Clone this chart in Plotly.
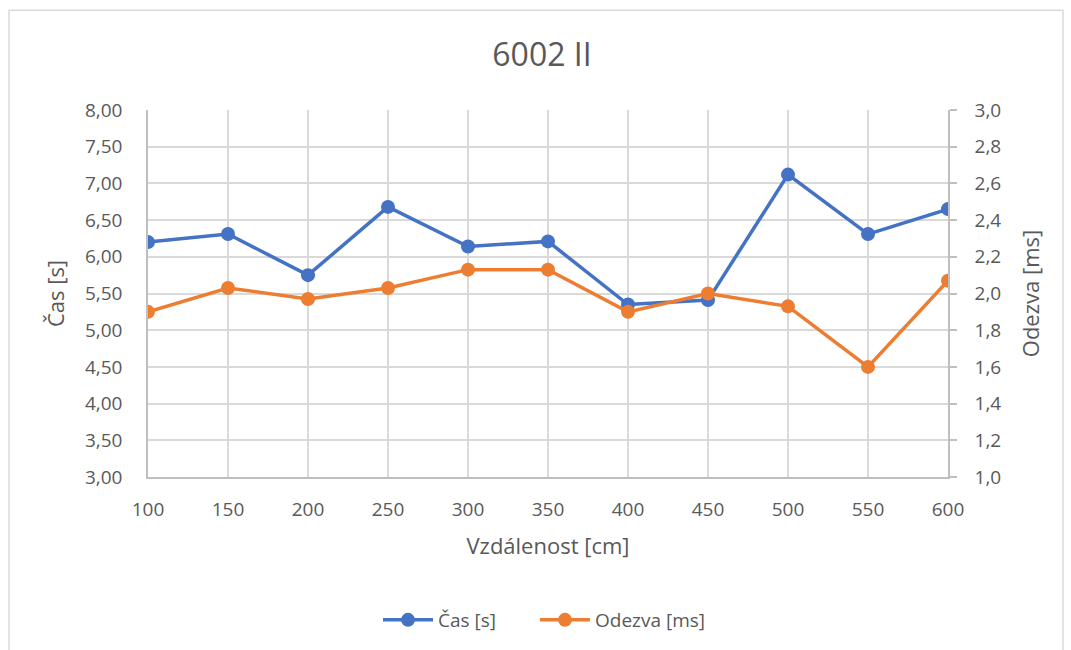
import plotly.graph_objects as go

distances = ["100", "150", "200", "250", "300", "350", "400", "450", "500", "550", "600"]
cas_s = [6.20, 6.31, 5.75, 6.68, 6.14, 6.21, 5.35, 5.41, 7.12, 6.31, 6.65]
odezva_ms = [1.90, 2.03, 1.97, 2.03, 2.13, 2.13, 1.90, 2.00, 1.93, 1.60, 2.07]

title_text = "6002 II"
x_title = "Vzdálenost [cm]"
y1_title = "Čas [s]"
y2_title = "Odezva [ms]"

FONT = "Open Sans, Segoe UI, sans-serif"
TXT = "#595959"
GRID = "#d9d9d9"
AXIS = "#bfbfbf"
BLUE = "#4472c4"
ORANGE = "#ed7d31"

fig = go.Figure()
fig.add_trace(go.Scatter(
    x=distances, y=cas_s, name=y1_title, mode="lines+markers",
    line=dict(color=BLUE, width=3.5), marker=dict(size=14, color=BLUE),
    yaxis="y", legend="legend",
))
fig.add_trace(go.Scatter(
    x=distances, y=odezva_ms, name=y2_title, mode="lines+markers",
    line=dict(color=ORANGE, width=3.5), marker=dict(size=14, color=ORANGE),
    yaxis="y2", legend="legend2",
))

W, H = 1071, 650
L, R, T, B = 148, 948, 110, 478

def px_x(p):
    return (p - L) / (R - L)

def px_y(p):
    return (B - p) / (B - T)

legend_style = dict(orientation="h", yanchor="middle", y=px_y(620), xanchor="left",
                    font=dict(size=19, color=TXT), itemwidth=50, bgcolor="rgba(0,0,0,0)")

fig.update_layout(
    width=W, height=H,
    margin=dict(l=L, r=W - R, t=T, b=H - B),
    paper_bgcolor="white", plot_bgcolor="white",
    separators=", ",
    font=dict(family=FONT, color=TXT, size=19),
    title=dict(text=title_text, x=542 / W, xanchor="center", y=1 - 55 / H, yanchor="middle",
               font=dict(size=32, color=TXT, family=FONT)),
    showlegend=True,
    legend=dict(x=px_x(378), **legend_style),
    legend2=dict(x=px_x(535), **legend_style),
    xaxis=dict(
        type="category", range=[0, 10],
        showgrid=True, gridcolor=GRID, gridwidth=1.5,
        showline=True, linecolor=AXIS, linewidth=1.5,
        ticks="", ticklabelstandoff=14,
        tickfont=dict(size=19, color=TXT),
        title=dict(text=x_title, standoff=18, font=dict(size=22, color=TXT)),
        zeroline=False,
    ),
    yaxis=dict(
        range=[3, 8], dtick=0.5, tickformat=".2f",
        showgrid=True, gridcolor=GRID, gridwidth=1.5,
        showline=True, linecolor=AXIS, linewidth=1.5,
        ticks="", ticklabelstandoff=20,
        tickfont=dict(size=19, color=TXT),
        title=dict(text=y1_title, standoff=14, font=dict(size=22, color=TXT)),
        zeroline=False,
    ),
    yaxis2=dict(
        range=[1, 3], dtick=0.2, tickformat=".1f",
        overlaying="y", side="right",
        showgrid=False,
        showline=True, linecolor=AXIS, linewidth=1.5,
        ticks="outside", ticklen=7, tickcolor=AXIS, tickwidth=1.5,
        ticklabelstandoff=14,
        tickfont=dict(size=19, color=TXT),
        title=dict(text=y2_title, standoff=23, font=dict(size=22, color=TXT)),
        zeroline=False,
    ),
    shapes=[dict(type="rect", xref="paper", yref="paper",
                 x0=px_x(9), x1=px_x(1063), y0=px_y(700), y1=px_y(10),
                 line=dict(color="#d9d9d9", width=1.5), fillcolor="rgba(0,0,0,0)", layer="below")],
)

fig.write_html("out.html", config={"displayModeBar": False},
               post_script="document.body.style.margin='0';")
